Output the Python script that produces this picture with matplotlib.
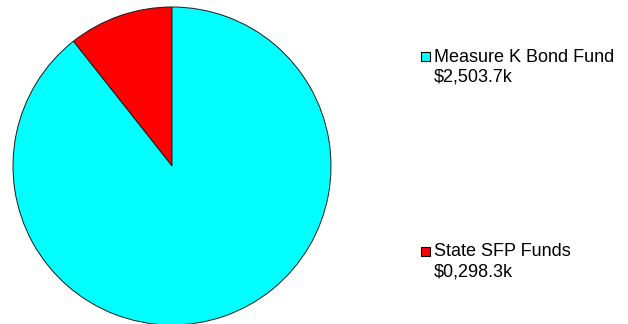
"""Pie chart of funding sources with a side legend."""

import matplotlib
matplotlib.use("Agg")
import matplotlib.pyplot as plt
from matplotlib.patches import Rectangle

# Funding sources (thousands of dollars)
sources = ["State SFP Funds", "Measure K Bond Fund"]
amounts = [298.3, 2503.7]
colors = ["#FF0000", "#00FFFF"]

W, H = 628, 324

fig = plt.figure(figsize=(W / 100, H / 100), dpi=100)
ax = fig.add_axes([0, 0, 1, 1])

ax.pie(amounts, colors=colors, startangle=90, counterclock=True,
       center=(172, H - 166), radius=159,
       wedgeprops=dict(edgecolor="#1a1a1a", linewidth=0.7))

ax.set_xlim(0, W)
ax.set_ylim(0, H)
ax.set_aspect("auto")
ax.axis("off")

# legend entries drawn by hand: (index, top of key box, name baseline, value baseline)
entries = [(1, 52, 61.5, 82), (0, 247, 256.5, 276.5)]
for i, box_top, name_y, val_y in entries:
    ax.add_patch(Rectangle((421, H - box_top - 9), 9, 9, facecolor=colors[i],
                           edgecolor="black", linewidth=0.8))
    ax.text(434, H - name_y, sources[i], fontsize=13, family="Liberation Sans",
            va="baseline", ha="left", color="black")
    ax.text(434, H - val_y, f"${amounts[i]:07,.1f}k", fontsize=13,
            family="Liberation Sans", va="baseline", ha="left", color="black")

fig.savefig("out.png", dpi=100, facecolor="white")
plt.close(fig)
